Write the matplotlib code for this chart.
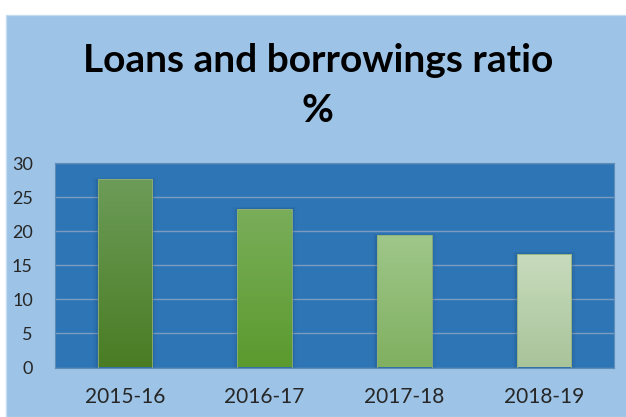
import matplotlib.pyplot as plt
import numpy as np
from matplotlib.colors import LinearSegmentedColormap
from matplotlib.patches import Rectangle

years = ['2015-16', '2016-17', '2017-18', '2018-19']
ratio = [27.6, 23.3, 19.4, 16.7]

# top / bottom colours of each bar's gradient
bar_top = ['#6c9c58', '#7aae5a', '#9fc78a', '#c8dcbd']
bar_bottom = ['#4a7c24', '#5b9a2e', '#80b060', '#a9c39a']

plt.rcParams['font.family'] = ['Lato', 'DejaVu Sans']

fig = plt.figure(figsize=(6.26, 4.17), dpi=100)
fig.patch.set_facecolor('white')

# light blue chart panel
fig.add_artist(Rectangle((6 / 626, 0), 1, (417 - 15) / 417, transform=fig.transFigure,
                         facecolor='#9dc3e6', edgecolor='#c5dcf0', linewidth=1, zorder=-10))

ax = fig.add_axes([55 / 626, (417 - 367.5) / 417, (614 - 55) / 626, (367.5 - 163) / 417])
ax.set_facecolor('#2e75b6')
for s in ax.spines.values():
    s.set_color('#5f8db8')
    s.set_linewidth(0.8)

ax.set_xlim(-0.5, len(years) - 0.5)
ax.set_ylim(0, 30)
ax.set_yticks(np.arange(0, 31, 5))
ax.yaxis.grid(True, color='#7a9cc0', linewidth=1.0)
ax.set_axisbelow(True)

width = 0.39
grad = np.linspace(0, 1, 256).reshape(-1, 1)
for i, (v, top, bot) in enumerate(zip(ratio, bar_top, bar_bottom)):
    # soft shadow
    for k, a in enumerate([0.10, 0.07, 0.04]):
        d = 0.012 * (k + 1)
        ax.add_patch(Rectangle((i - width / 2 - d, 0), width + 2 * d, v + d * 8,
                               facecolor='#1a3f66', edgecolor='none', alpha=a, zorder=2))
    cmap = LinearSegmentedColormap.from_list('g%d' % i, [bot, top])
    bar = ax.bar(i, v, width=width, color='none', edgecolor='#8fb07a', linewidth=0.6, zorder=4)
    im = ax.imshow(grad, cmap=cmap, origin='lower', aspect='auto',
                   extent=(i - width / 2, i + width / 2, 0, v), zorder=3)
    im.set_clip_path(bar.patches[0])

ax.set_xticks(range(len(years)))
ax.set_xticklabels(years)
ax.tick_params(axis='both', length=0, colors='#262626')
ax.tick_params(axis='y', pad=16, labelsize=13)
ax.tick_params(axis='x', pad=14, labelsize=15)

fig.text(318 / 626, 1 - 72 / 417, 'Loans and borrowings ratio', ha='center', va='baseline',
         fontsize=28, fontweight='bold', color='black')
fig.text(317 / 626, 1 - 122 / 417, '%', ha='center', va='baseline',
         fontsize=28, fontweight='bold', color='black')

plt.savefig('out.png', dpi=100)
